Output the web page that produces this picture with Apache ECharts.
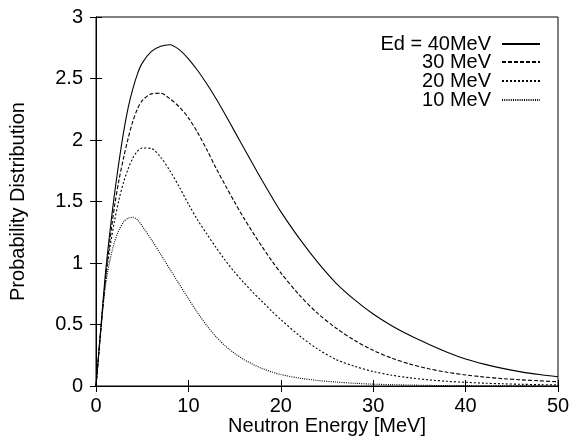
<!DOCTYPE html>
<html>
<head>
<meta charset="utf-8">
<script src="https://cdn.jsdelivr.net/npm/echarts@6/dist/echarts.min.js"></script>
<style>
html,body{margin:0;padding:0;background:#fff;}
#c{width:570px;height:438px;}
</style>
</head>
<body>
<div id="c"></div>
<script>
// Neutron energy grid [MeV]
const energy = [0,0.5,1,1.5,2,2.5,3,3.5,4,4.5,5,6,7,8,9,10,11,12,13,14,15,16,17,18,19,20,22,24,26,28,30,32,34,36,38,40,42,44,46,48,50];
// Probability distribution values
const ed40 = [0,0.45,0.9,1.25,1.56,1.83,2.07,2.27,2.42,2.54,2.625,2.72,2.762,2.775,2.735,2.66,2.565,2.455,2.335,2.205,2.07,1.935,1.8,1.668,1.54,1.418,1.2,1.005,0.835,0.7,0.585,0.49,0.41,0.34,0.275,0.22,0.178,0.143,0.115,0.093,0.075];
const ed30 = [0,0.44,0.85,1.18,1.46,1.68,1.86,2.02,2.155,2.255,2.32,2.375,2.38,2.335,2.27,2.18,2.06,1.92,1.77,1.63,1.495,1.365,1.245,1.13,1.02,0.92,0.74,0.59,0.47,0.37,0.29,0.227,0.178,0.14,0.112,0.09,0.073,0.06,0.05,0.042,0.035];
const ed20 = [0,0.44,0.84,1.12,1.34,1.52,1.66,1.77,1.855,1.91,1.935,1.93,1.86,1.75,1.62,1.48,1.35,1.235,1.125,1.02,0.925,0.84,0.76,0.685,0.61,0.54,0.41,0.3,0.215,0.16,0.118,0.088,0.066,0.05,0.038,0.03,0.023,0.018,0.014,0.011,0.009];
const ed10 = [0,0.43,0.8,1.02,1.17,1.27,1.335,1.365,1.372,1.35,1.3,1.19,1.07,0.95,0.83,0.71,0.595,0.49,0.4,0.325,0.265,0.215,0.175,0.142,0.115,0.093,0.064,0.045,0.032,0.022,0.015,0.011,0.008,0.005,0.004,0.003,0.002,0.001,0.001,0.0005,0];
const seriesNames = ['Ed = 40MeV','30 MeV','20 MeV','10 MeV'];
const seriesData = [ed40, ed30, ed20, ed10];
const dashes = ['solid',[4,2],[2,2],[1,1.2]];
const xTicks = [0,10,20,30,40,50];
const yTicks = [0,0.5,1,1.5,2,2.5,3];

const FONT = "'Liberation Sans', Arial, sans-serif";
const chart = echarts.init(document.getElementById('c'), null, {renderer:'canvas'});

const pair = (ys) => energy.map((e,i)=>[e, ys[i]]);

const legendTops = [34, 52, 71, 90];
const legends = seriesNames.map((n,i)=>({
  data:[n],
  orient:'vertical',
  right: 29,
  top: legendTops[i],
  align:'right',
  itemWidth: 38,
  itemHeight: 10,
  padding: 0,
  selectedMode: false,
  itemStyle:{opacity:0},
  textStyle:{fontFamily:FONT,fontSize:20,color:'#000',padding:[0,6,0,0],lineHeight:20}
}));

chart.setOption({
  animation:false,
  backgroundColor:'#fff',
  grid:{left:96,right:12,top:17,bottom:52,containLabel:false,outerBoundsMode:'none',show:true,borderColor:'#000',borderWidth:1,backgroundColor:'transparent'},
  legend: legends,
  xAxis:[{
    type:'value',min:xTicks[0],max:xTicks[xTicks.length-1],interval:10,
    name:'Neutron Energy [MeV]',nameLocation:'middle',nameGap:30,nameMoveOverlap:false,
    nameTextStyle:{fontFamily:FONT,fontSize:20,color:'#000'},
    axisLine:{show:true,lineStyle:{color:'#000',width:1}},
    axisTick:{show:true,inside:true,length:6,lineStyle:{color:'#000'}},
    axisLabel:{fontFamily:FONT,fontSize:20,color:'#000',margin:10},
    splitLine:{show:false}
  },{
    type:'value',position:'top',min:xTicks[0],max:xTicks[xTicks.length-1],interval:10,
    axisLine:{show:true,lineStyle:{color:'#000',width:1}},
    axisTick:{show:true,inside:true,length:6,lineStyle:{color:'#000'}},
    axisLabel:{show:false},splitLine:{show:false}
  }],
  yAxis:[{
    type:'value',min:yTicks[0],max:yTicks[yTicks.length-1],interval:0.5,
    name:'Probability Distribution',nameLocation:'middle',nameGap:68,nameRotate:90,nameMoveOverlap:false,
    nameTextStyle:{fontFamily:FONT,fontSize:20,color:'#000'},
    axisLine:{show:true,lineStyle:{color:'#000',width:1}},
    axisTick:{show:true,inside:true,length:6,lineStyle:{color:'#000'}},
    axisLabel:{fontFamily:FONT,fontSize:20,color:'#000',margin:13},
    splitLine:{show:false}
  },{
    type:'value',position:'right',min:yTicks[0],max:yTicks[yTicks.length-1],interval:0.5,
    axisLine:{show:true,lineStyle:{color:'#000',width:1}},
    axisTick:{show:true,inside:true,length:6,lineStyle:{color:'#000'}},
    axisLabel:{show:false},splitLine:{show:false}
  }],
  series: seriesNames.map((n,i)=>({
    name:n,type:'line',xAxisIndex:0,yAxisIndex:0,
    data:pair(seriesData[i]),
    symbol:'none',showSymbol:false,smooth:0.3,
    lineStyle:{color:'#000',width:1.1,type:dashes[i]},
    itemStyle:{color:'#000'},
    clip:true
  }))
});
</script>
</body>
</html>
